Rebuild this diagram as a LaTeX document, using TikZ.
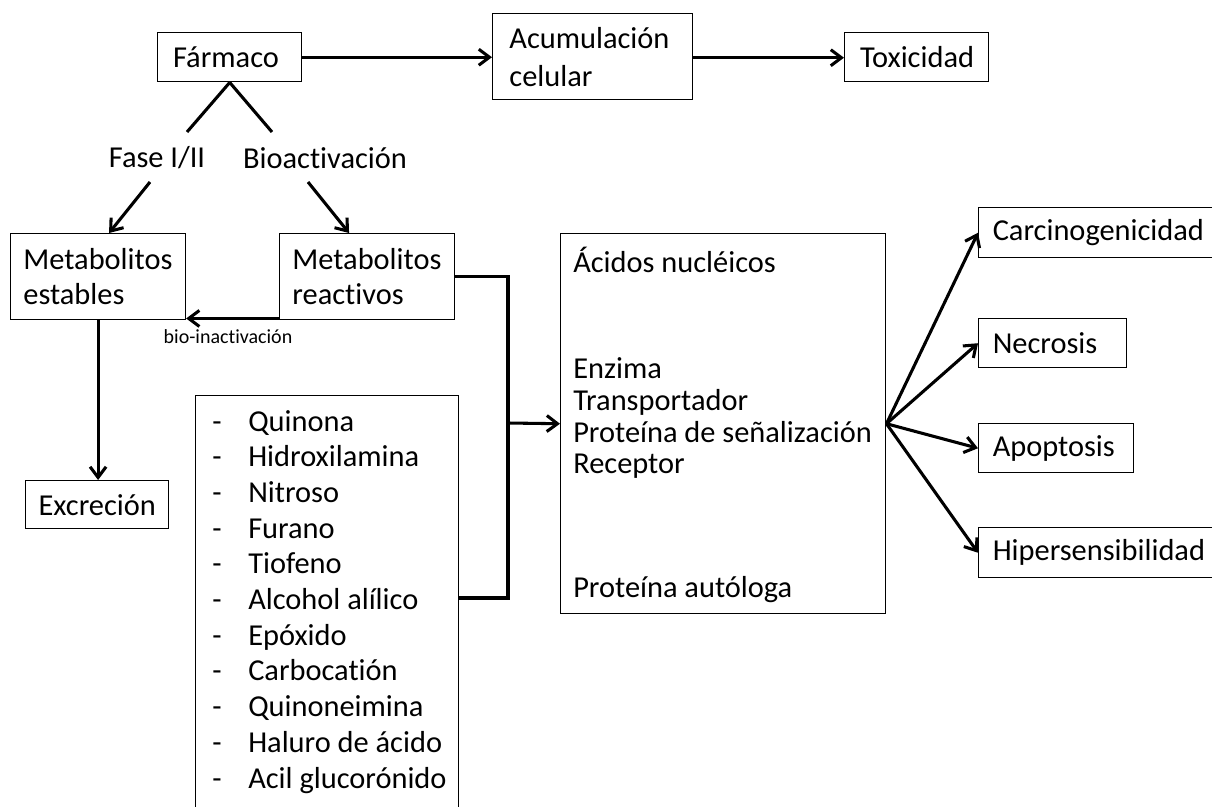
\documentclass[tikz,border=0pt]{standalone}
\usepackage{fontspec}
\setmainfont{Carlito}[Ligatures={NoCommon,NoRequired,NoContextual},Contextuals=NoAlternate,RawFeature={-liga;-calt;-clig}]
\usetikzlibrary{arrows.meta,calc}
\newcommand{\fbig}{\fontsize{22.8}{26.3}\selectfont}
\newcommand{\fsmall}{\fontsize{15}{18}\selectfont}
\begin{document}
\begin{tikzpicture}[x=0.75pt,y=-0.75pt,
  box/.style={draw, line width=1.1pt, inner sep=0pt, anchor=north west, font=\fbig, align=left},
  txt/.style={font=\fbig, inner sep=0pt},
  ln/.style={line width=2.3pt},
  arr/.style={line width=2.3pt, -{Straight Barb[length=8pt,width=12pt]}}]
\useasboundingbox (0,0) rectangle (1212,806);
\clip (0,0) rectangle (1212,806);

% boxes
\node[box, minimum width=108pt, minimum height=36.75pt, text width=85pt, inner xsep=11pt] (farm) at (157,32) {Fármaco};
\node[box, minimum width=150pt, minimum height=64.5pt, text width=125pt, inner xsep=11pt, font=\fontsize{22.8}{28.5}\selectfont] (acum) at (492,13) {Acumulación\\celular};
\node[box, minimum width=108pt, minimum height=36.75pt, text width=85pt, inner xsep=11pt] (tox) at (844,32) {Toxicidad};
\node[box, minimum width=130.5pt, minimum height=64.5pt, text width=112pt, inner xsep=9.5pt] (me) at (10,233) {Metabolitos\\estables};
\node[box, minimum width=130.5pt, minimum height=64.5pt, text width=112pt, inner xsep=9.5pt] (mr) at (279,233) {Metabolitos\\reactivos};
\node[box, minimum width=107.25pt, minimum height=36pt, text width=88pt, inner xsep=9.5pt] (exc) at (25,480) {Excreción};
\node[box, minimum width=243.75pt, minimum height=285pt] (big) at (560,233) {};
\node[box, minimum width=197.25pt, minimum height=330pt] (list) at (195,395) {};
\node[box, minimum width=180pt, minimum height=37.5pt, text width=165pt, inner xsep=10.5pt] (carc) at (978,207) {Carcinogenicidad};
\node[box, minimum width=108pt, minimum height=36.75pt, text width=90pt, inner xsep=10.5pt] (necr) at (978,318) {Necrosis};
\node[box, minimum width=114.75pt, minimum height=36.75pt, text width=95pt, inner xsep=10.5pt] (apop) at (978,423) {Apoptosis};
\node[box, minimum width=180pt, minimum height=37.5pt, text width=165pt, inner xsep=10.5pt] (hiper) at (978,527) {Hipersensibilidad};

% texts in the big box
\node[txt, anchor=base west] (t1) at (573,272) {Ácidos nucléicos};
\node[txt, anchor=base west] (t2) at (573,378) {Enzima};
\node[txt, anchor=base west] (t3) at (573,410) {Transportador};
\node[txt, anchor=base west] (t4) at (573,442) {Proteína de señalización};
\node[txt, anchor=base west] (t5) at (573,473) {Receptor};
\node[txt, anchor=base west] (t6) at (573,597) {Proteína autóloga};

% list items
\foreach \t [count=\i] in {Quinona,Hidroxilamina,Nitroso,Furano,Tiofeno,Alcohol alílico,Epóxido,Carbocatión,Quinoneimina,Haluro de ácido,Acil glucorónido}{
  \node[txt, anchor=base west] (d\i) at (212,{431+35.7*(\i-1)}) {-};
  \node[txt, anchor=base west] (it\i) at (248,{431+35.7*(\i-1)}) {\t};
}

% labels
\node[txt] (fase) at (157,158) {Fase I/II};
\node[txt] (bioa) at (325,158) {Bioactivación};
\node[font=\fsmall, inner sep=0pt] (bioi) at (228,337) {bio-inactivación};

% connectors
\draw[arr] (farm.east) -- (farm.east -| acum.west);
\draw[arr] (acum.west -| acum.east) ++(0,1) coordinate (ae) -- (ae -| tox.west);
\coordinate (fl) at (187,132);
\coordinate (fr) at (272,132);
\draw[ln] (farm.south) -- (fl);
\draw[ln] (farm.south) -- (fr);
\coordinate (al) at (150,182);
\coordinate (ar) at (308,182);
\draw[arr] (al) -- ($(me.north)+(11,0)$);
\draw[arr] (ar) -- ($(mr.north)+(-18,0)$);
\draw[arr] ($(mr.south west)+(0,-2)$) -- ($(me.south east)+(0,-2)$);
\draw[arr] (me.south) -- (me.south |- exc.north);
\coordinate (j) at (508,423);
\draw[ln] (mr.east) -| (j);
\draw[ln] ($(list.north east)+(0,203)$) -| (j);
\draw[arr] (j) -- (big.west);
\foreach \n in {carc,necr,apop,hiper}{
  \draw[arr] (big.east) -- (\n.west);
}
\end{tikzpicture}
\end{document}
